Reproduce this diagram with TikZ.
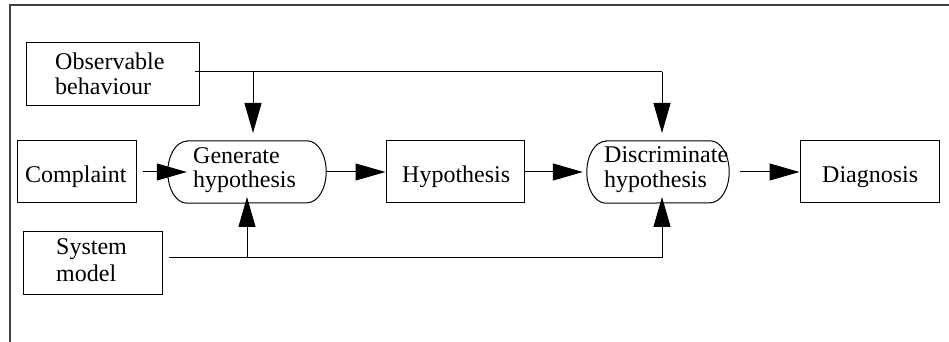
\documentclass[tikz,border=0pt]{standalone}
\usepackage{fontspec}
\setmainfont{Liberation Serif}
\usetikzlibrary{arrows.meta,calc}
\begin{document}
\begin{tikzpicture}[x=1pt,y=1pt,
  box/.style={draw, line width=1pt, minimum width=#1, minimum height=62pt, inner sep=0pt},
  pill/.style={minimum width=#1, minimum height=62pt, inner sep=0pt},
  lbl/.style={anchor=base west, inner sep=0pt, font=\fontsize{24}{26}\selectfont},
  arr/.style={line width=1pt, -{Triangle[length=30pt,width=17pt]}},
  ln/.style={line width=1pt},
  frame/.style={line width=1.5pt, black!75}]
\useasboundingbox (0,0) rectangle (949,342);
\draw[frame] (10,0) -- (10,337) -- (949,337);

% boxes
\node[box=173pt, minimum height=63pt] (obs) at (112.5,267.5) {};
\node[box=119pt] (comp) at (76.5,170) {};
\node[box=139pt, minimum height=63pt] (sys) at (92.5,78.5) {};
\node[box=138pt] (hyp) at (455,170) {};
\node[box=139pt] (diag) at (869.5,170) {};
\node[pill=158pt] (gen) at (247,170) {};
\node[pill=142pt] (disc) at (658,170) {};
\foreach \n in {gen,disc}
  \draw[ln] ([xshift=19pt]\n.north west) -- ([xshift=-19pt]\n.north east)
    arc[start angle=90, end angle=-90, x radius=19pt, y radius=31pt]
    -- ([xshift=19pt]\n.south west)
    arc[start angle=270, end angle=90, x radius=19pt, y radius=31pt] -- cycle;

% texts
\node[lbl] (tobs1) at (55,272) {Observable};
\node[lbl] (tobs2) at (55,247) {behaviour};
\node[lbl] (tcomp) at (25,159) {Complaint};
\node[lbl] (tsys1) at (56,87) {System};
\node[lbl] (tsys2) at (56,60) {model};
\node[lbl] (tgen1) at (193,178) {Generate};
\node[lbl] (tgen2) at (193,154) {hypothesis};
\node[lbl] (thyp) at (402,159) {Hypothesis};
\node[lbl] (tdisc1) at (604,179) {Discriminate};
\node[lbl] (tdisc2) at (604,154) {hypothesis};
\node[lbl] (tdiag) at (822,159) {Diagnosis};

% junctions
\coordinate (j1) at (253,270);
\coordinate (j2) at (662,270);
\coordinate (gtop) at (253,209);
\coordinate (dtop) at (662,209);
\coordinate (k1) at (247,84);
\coordinate (k2) at (662,84);
\coordinate (gbot) at (247,145);
\coordinate (dbot) at (662,145);

% connectors
\draw[ln] ($(obs.east |- j1)+(-5,0)$) -- (j2);
\draw[arr] (j1) -- (gtop);
\draw[arr] (j2) -- (dtop);
\draw[ln] ($(sys.east |- k1)+(6,0)$) -- (k2);
\draw[arr] (k1) -- (gbot);
\draw[arr] (k2) -- (dbot);
\draw[arr] ($(comp.east)+(6,0)$) -- ($(gen.west)+(19,0)$);
\draw[arr] (gen.east) -- (hyp.west);
\draw[arr] (hyp.east) -- ($(disc.west)+(-4,0)$);
\draw[arr] ($(disc.east)+(11,0)$) -- (diag.west);
\end{tikzpicture}
\end{document}
